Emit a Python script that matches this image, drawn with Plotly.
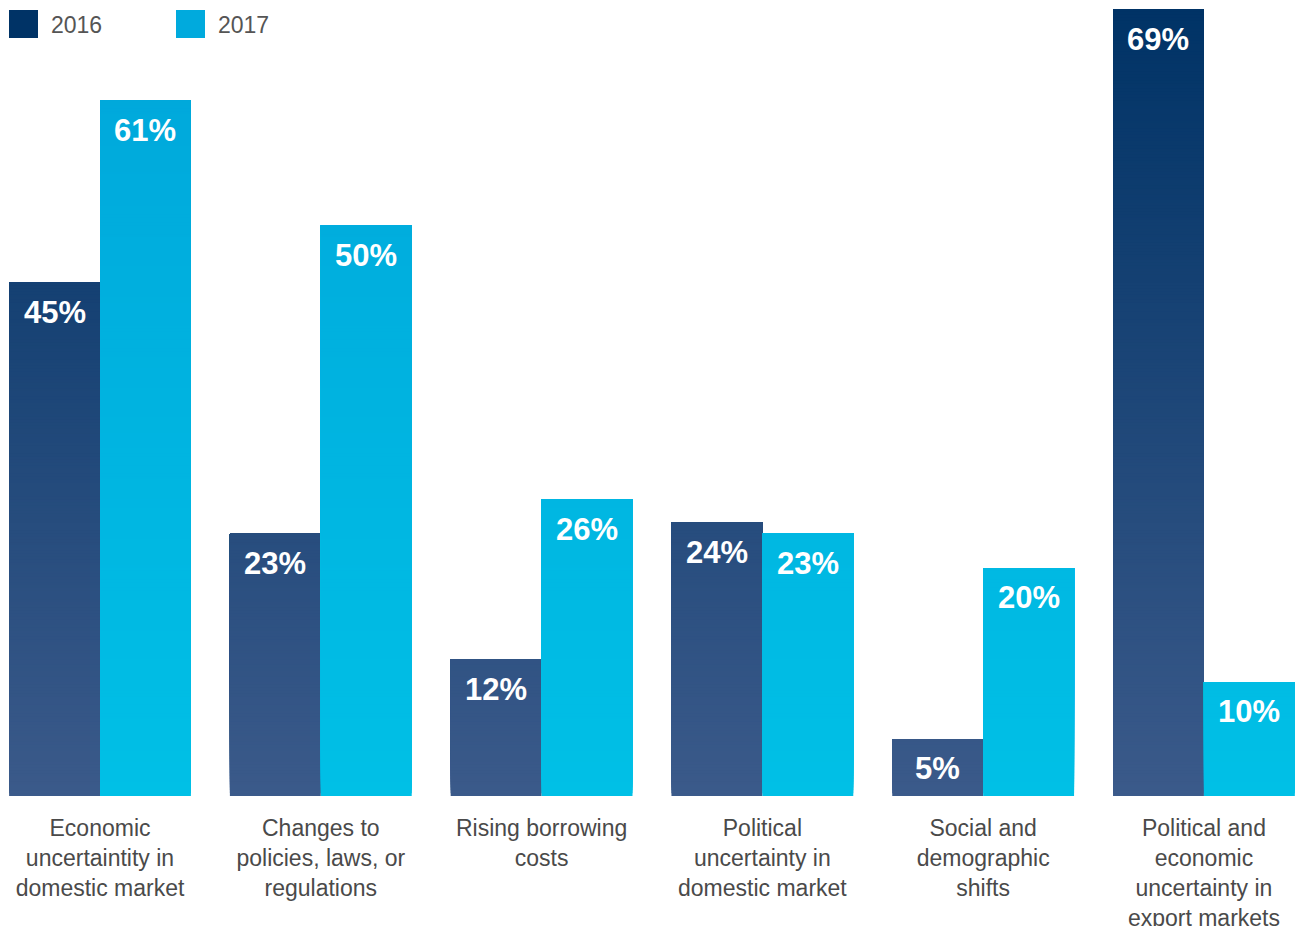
import numpy as np
import plotly.graph_objects as go

# ---- data ----
categories = [
    "Economic<br>uncertaintity in<br>domestic market",
    "Changes to<br>policies, laws, or<br>regulations",
    "Rising borrowing<br>costs",
    "Political<br>uncertainty in<br>domestic market",
    "Social and<br>demographic<br>shifts",
    "Political and<br>economic<br>uncertainty in<br>export markets",
]
series_names = ["2016", "2017"]
values_2016 = [45, 23, 12, 24, 5, 69]
values_2017 = [61, 50, 26, 23, 20, 10]

# ---- styling ----
W, H = 1296, 926
M_TOP, M_BOT = 9, 130
Y_MAX = 69
BARGAP = 0.1765
X_RANGE = [-0.453, 5.417]
STEP = 0.25  # gradient band height in value units

gradients = {
    "2016": [[0, "#3b5a8a"], [1, "#003366"]],
    "2017": [[0, "#00c0e6"], [1, "#00a6da"]],
}
legend_colors = {"2016": "#003366", "2017": "#00aadd"}
label_font = "Liberation Sans, Arial, Helvetica, sans-serif"


def gradient_bar(values, name):
    """Vertical-gradient bars built from overlapping bands, bottom to top."""
    xs, bases, heights, shades = [], [], [], []
    for i, v in enumerate(values):
        for b in np.arange(0, v, STEP):
            xs.append(i)
            bases.append(float(b))
            heights.append(float(v - b))
            shades.append(float(min(b + STEP / 2, v)))
    return go.Bar(
        x=xs, y=heights, base=bases, offsetgroup=name, name=name,
        marker=dict(color=shades, colorscale=gradients[name], cmin=0, cmax=Y_MAX,
                    line=dict(width=0)),
        hoverinfo="skip", showlegend=False,
    )


fig = go.Figure()
fig.add_trace(gradient_bar(values_2016, "2016"))
fig.add_trace(gradient_bar(values_2017, "2017"))

# value labels inside the top of each bar
half = (1 - BARGAP) / 4
for sign, vals in ((-1, values_2016), (1, values_2017)):
    for i, v in enumerate(vals):
        fig.add_annotation(
            x=i + sign * half, y=v, text=f"{v}%", showarrow=False,
            xref="x", yref="y", yanchor="middle", yshift=-30,
            font=dict(family=label_font, size=31, color="white", weight="bold"),
        )

# legend drawn as swatches + text
plot_h = H - M_TOP - M_BOT


def px_x(px):
    return px / W


def px_y(py):
    return (H - M_BOT - py) / plot_h


for name, x0 in (("2016", 9), ("2017", 176)):
    fig.add_shape(type="rect", xref="paper", yref="paper",
                  x0=px_x(x0), x1=px_x(x0 + 29), y0=px_y(38), y1=px_y(10),
                  fillcolor=legend_colors[name], line=dict(width=0))
    fig.add_annotation(xref="paper", yref="paper", x=px_x(x0 + 40), y=px_y(25),
                       xanchor="left", yanchor="middle", text=name, showarrow=False,
                       font=dict(family=label_font, size=23, color="#555555"))

fig.update_layout(
    width=W, height=H, autosize=False,
    margin=dict(l=0, r=0, t=M_TOP, b=M_BOT),
    paper_bgcolor="white", plot_bgcolor="white",
    barmode="group", bargap=BARGAP, bargroupgap=0,
    xaxis=dict(range=X_RANGE, tickmode="array", tickvals=list(range(len(categories))),
               ticktext=categories, showgrid=False, zeroline=False, showline=False,
               ticks="", ticklabelstandoff=16, automargin=False,
               tickfont=dict(family=label_font, size=23, color="#4a4a4a")),
    yaxis=dict(range=[0, Y_MAX], visible=False, fixedrange=True, automargin=False),
    showlegend=False,
)

fig.write_html("out.html")
